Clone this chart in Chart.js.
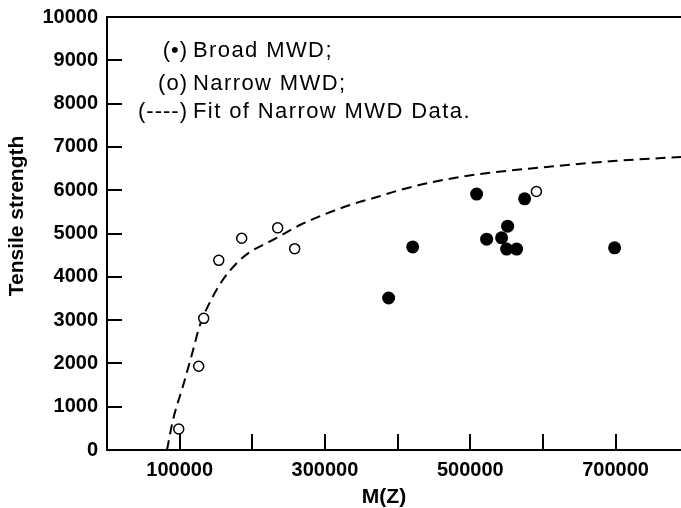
<!DOCTYPE html>
<html>
<head>
<meta charset="utf-8">
<script src="https://cdn.jsdelivr.net/npm/chart.js@4.4.0/dist/chart.umd.min.js"></script>
<style>
  html, body { margin: 0; padding: 0; background: #fff; }
  #wrap { width: 681px; height: 508px; }
</style>
</head>
<body>
<div id="wrap"><canvas id="chart" width="681" height="508"></canvas></div>
<script>
// Broad MWD samples (filled dots)
var broadX = [387600, 420700, 508700, 522500, 543100, 550000, 551400, 563800, 574800, 698600];
var broadY = [3510, 4690, 5910, 4870, 4900, 4640, 5170, 4640, 5800, 4670];

// Narrow MWD samples (open dots)
var narrowX = [98700, 126200, 133100, 153800, 185400, 234900, 258300, 591000];
var narrowY = [484, 1935, 3040, 4380, 4890, 5130, 4650, 5970];

// dashed fit through the narrow data
var fitX = [82600, 90800, 104600, 117000, 128000, 141800, 158300, 177500, 196800, 220200, 238100, 265600, 297300, 334400, 371600, 403300, 448700, 513400, 605600, 696400, 790000];
var fitY = [0, 693, 1478, 2217, 2887, 3418, 3903, 4296, 4573, 4781, 4942, 5196, 5427, 5658, 5843, 6005, 6189, 6374, 6536, 6674, 6767];

var xTicks = [100000, 200000, 300000, 400000, 500000, 600000, 700000];
var xLabelled = [100000, 300000, 500000, 700000];
var legendLines = [
    ['(\u2022)', 'Broad MWD;'],
    ['(o)', 'Narrow MWD;'],
    ['(----)', 'Fit of Narrow MWD Data.']
];

function toPoints(xs, ys) {
    return xs.map(function(x, i) { return { x: x, y: ys[i] }; });
}

var FONT = '"Liberation Sans", Arial, Helvetica, sans-serif';

// inward tick marks, top frame line, legend text and axis titles
var decorPlugin = {
    id: 'decor',
    afterDraw: function(chart) {
        var ctx = chart.ctx;
        var area = chart.chartArea;
        var xs = chart.scales.x, ys = chart.scales.y;
        ctx.save();
        ctx.strokeStyle = '#000';
        ctx.lineWidth = 2;

        ctx.beginPath();
        ctx.moveTo(area.left - 1, area.top);
        ctx.lineTo(area.right, area.top);
        ctx.stroke();

        xs.ticks.forEach(function(t) {
            var px = Math.round(xs.getPixelForValue(t.value));
            ctx.beginPath();
            ctx.moveTo(px, area.bottom);
            ctx.lineTo(px, area.bottom - 16);
            ctx.stroke();
        });
        ys.ticks.forEach(function(t) {
            if (t.value <= 0 || t.value >= ys.max) return;
            var py = Math.round(ys.getPixelForValue(t.value));
            ctx.beginPath();
            ctx.moveTo(area.left, py);
            ctx.lineTo(area.left + 15, py);
            ctx.stroke();
        });

        ctx.fillStyle = '#000';
        ctx.font = '22px ' + FONT;
        ctx.textBaseline = 'alphabetic';
        var baselines = [57, 90, 118];
        legendLines.forEach(function(line, i) {
            ctx.letterSpacing = '1px';
            ctx.textAlign = 'right';
            ctx.fillText(line[0], 188, baselines[i]);
            ctx.letterSpacing = '1.4px';
            ctx.textAlign = 'left';
            ctx.fillText(line[1], 193, baselines[i]);
        });
        ctx.letterSpacing = '0px';

        ctx.font = 'bold 21px ' + FONT;
        ctx.textAlign = 'center';
        ctx.fillText('M(Z)', 384, 503);
        ctx.translate(23, 216);
        ctx.rotate(-Math.PI / 2);
        ctx.fillText('Tensile strength', 0, 0);
        ctx.restore();
    }
};

new Chart(document.getElementById('chart'), {
    type: 'scatter',
    data: {
        datasets: [{
            label: 'Broad MWD',
            data: toPoints(broadX, broadY),
            pointRadius: 6.5,
            pointBackgroundColor: '#000',
            pointBorderColor: '#000',
            pointBorderWidth: 0
        }, {
            label: 'Narrow MWD',
            data: toPoints(narrowX, narrowY),
            pointRadius: 5,
            pointBackgroundColor: '#fff',
            pointBorderColor: '#000',
            pointBorderWidth: 1.5
        }, {
            label: 'Fit of Narrow MWD Data',
            data: toPoints(fitX, fitY),
            showLine: true,
            pointRadius: 0,
            borderColor: '#000',
            borderWidth: 2,
            borderDash: [10, 6],
            cubicInterpolationMode: 'monotone',
            order: 5
        }]
    },
    options: {
        responsive: false,
        animation: false,
        events: [],
        layout: {
            autoPadding: false,
            padding: { top: 17, right: 0, left: 0, bottom: 0 }
        },
        plugins: {
            legend: { display: false },
            tooltip: { enabled: false }
        },
        scales: {
            x: {
                type: 'linear',
                min: 0,
                max: 790000,
                grid: { display: false, drawTicks: false },
                border: { display: true, color: '#000', width: 2 },
                afterBuildTicks: function(scale) {
                    scale.ticks = xTicks.map(function(v) { return { value: v }; });
                },
                ticks: {
                    autoSkip: false,
                    maxRotation: 0,
                    padding: 8,
                    color: '#000',
                    font: { family: FONT, size: 20, weight: 'bold' },
                    callback: function(v) {
                        return xLabelled.indexOf(v) >= 0 ? String(v) : '';
                    }
                },
                afterFit: function(scale) {
                    scale.height = 58;
                    scale.paddingLeft = 0;
                    scale.paddingRight = 0;
                }
            },
            y: {
                min: 0,
                max: 10000,
                grid: { display: false, drawTicks: false },
                border: { display: true, color: '#000', width: 2 },
                ticks: {
                    stepSize: 1000,
                    padding: 9,
                    color: '#000',
                    font: { family: FONT, size: 20, weight: 'bold' },
                    callback: function(v) { return String(v); }
                },
                afterFit: function(scale) {
                    scale.width = 107;
                    scale.paddingTop = 0;
                    scale.paddingBottom = 0;
                }
            }
        }
    },
    plugins: [decorPlugin]
});
</script>
</body>
</html>
